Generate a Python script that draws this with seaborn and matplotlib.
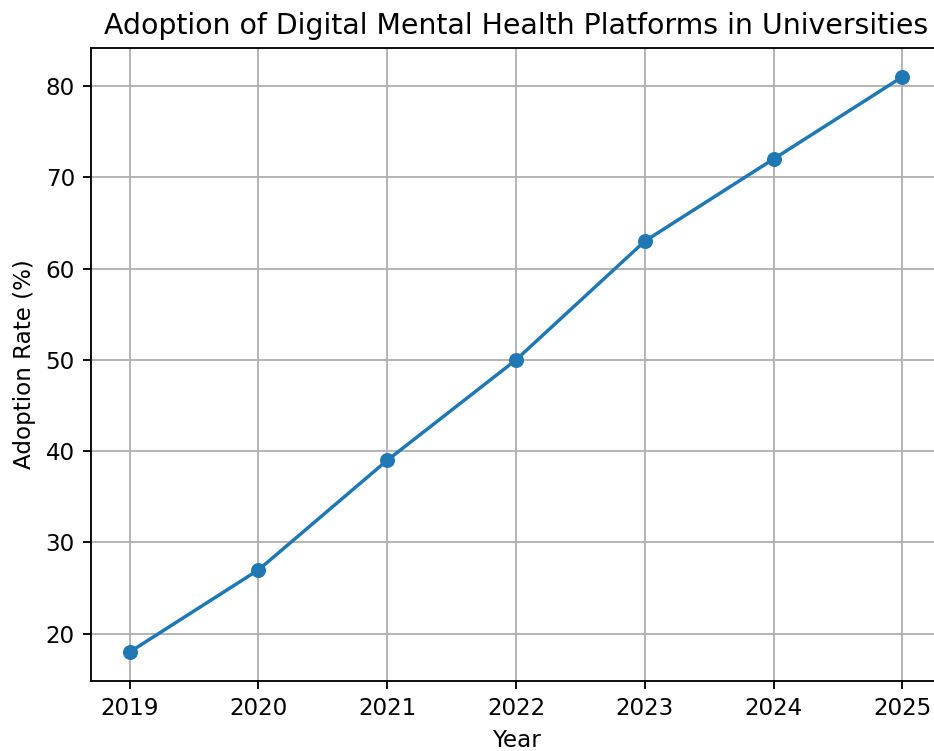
import pandas as pd
import matplotlib.pyplot as plt
import seaborn as sns

years = [2019, 2020, 2021, 2022, 2023, 2024, 2025]
adoption_rate = [18, 27, 39, 50, 63, 72, 81]

df = pd.DataFrame({'Year': years, 'Adoption Rate (%)': adoption_rate})

DPI = 166
fig = plt.figure(figsize=(934 / DPI, 751 / DPI), dpi=DPI)
ax = fig.add_axes([0.0975, 0.0935, 0.91, 0.8425])
sns.lineplot(data=df, x='Year', y='Adoption Rate (%)', marker='o', color='#1f77b4',
             linewidth=1.5, markersize=6.5, markeredgewidth=0, ax=ax)
ax.set_title('Adoption of Digital Mental Health Platforms in Universities', fontsize=12.3)
ax.set_xlabel('Year')
ax.set_ylabel('Adoption Rate (%)')
ax.set_xticks(years)
ax.grid(True)
# the reference is cropped just before the right edge of the axes
ax.spines['right'].set_visible(False)

plt.savefig('out.png', dpi=DPI)
